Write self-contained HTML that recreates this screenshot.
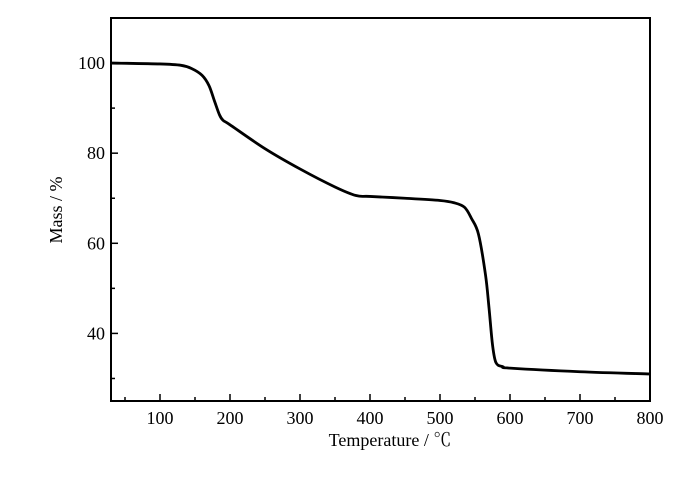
<!DOCTYPE html>
<html><head><meta charset="utf-8"><style>
body{margin:0;background:#fff}
svg{display:block;font-family:"Liberation Serif","Noto Serif CJK SC",serif}
</style></head><body>
<svg width="700" height="481" viewBox="0 0 700 481">
<g id="axes"></g>
<g id="plot"></g>
<text x="390" y="446" text-anchor="middle" font-size="18">Temperature / ℃</text>
<text transform="translate(62,210) rotate(-90)" text-anchor="middle" font-size="18">Mass / %</text>
</svg>
<script>
const temps=[30,100,130,145,160,170,178,185,190,200,250,300,350,380,400,450,500,520,535,545,555,565,570,575,580,590,600,700,800];
const mass=[100,99.8,99.5,98.8,97.3,95,91.5,88.5,87.3,86.3,81,76.5,72.5,70.6,70.4,70,69.5,69,68,65.5,62,53,45.7,37.5,33.5,32.6,32.3,31.5,31];
const xTicks=[100,200,300,400,500,600,700,800];
const xMinor=[50,150,250,350,450,550,650,750];
const yTicks=[40,60,80,100];
const yMinor=[30,50,70,90];
const L=111,R=650,T=18,B=401,X0=30,X1=800,Y0=25,Y1=110;
const sx=v=>L+(v-X0)/(X1-X0)*(R-L);
const sy=v=>B-(v-Y0)/(Y1-Y0)*(B-T);
const NS="http://www.w3.org/2000/svg";
const axes=document.getElementById('axes'),plot=document.getElementById('plot');
function mk(tag,attrs,parent){const e=document.createElementNS(NS,tag);for(const k in attrs)e.setAttribute(k,attrs[k]);parent.appendChild(e);return e;}
const frame=mk('rect',{x:L,y:T,width:R-L,height:B-T,fill:'none',stroke:'#000','stroke-width':2},axes);


xTicks.forEach(v=>{
 const t=mk('line',{x1:sx(v),x2:sx(v),y1:B,y2:B-7,stroke:'#000','stroke-width':1.5},axes);
 
 
 const l=mk('text',{x:sx(v),y:B+23,'text-anchor':'middle','font-size':18},axes);
 l.textContent=v;
 
 
});
xMinor.forEach(v=>{
 const t=mk('line',{x1:sx(v),x2:sx(v),y1:B,y2:B-4,stroke:'#000','stroke-width':1.5},axes);
 
 
});
yTicks.forEach(v=>{
 const t=mk('line',{x1:L,x2:L+7,y1:sy(v),y2:sy(v),stroke:'#000','stroke-width':1.5},axes);
 
 
 const l=mk('text',{x:L-6,y:sy(v)+6,'text-anchor':'end','font-size':18},axes);
 l.textContent=v;
 
 
});
yMinor.forEach(v=>{
 const t=mk('line',{x1:L,x2:L+4,y1:sy(v),y2:sy(v),stroke:'#000','stroke-width':1.5},axes);
 
 
});
const pts=temps.map((t,i)=>[sx(t),sy(mass[i])]);
let d='M'+pts[0][0]+','+pts[0][1];
for(let i=0;i<pts.length-1;i++){
 const p0=pts[Math.max(i-1,0)],p1=pts[i],p2=pts[i+1],p3=pts[Math.min(i+2,pts.length-1)];
 const c1=[p1[0]+(p2[0]-p0[0])/6,p1[1]+(p2[1]-p0[1])/6];
 const c2=[p2[0]-(p3[0]-p1[0])/6,p2[1]-(p3[1]-p1[1])/6];
 d+=' C'+c1+' '+c2+' '+p2;
}
const line=mk('path',{d:d,fill:'none',stroke:'#000','stroke-width':2.8,'stroke-linejoin':'round'},plot);


</script>
</body></html>
